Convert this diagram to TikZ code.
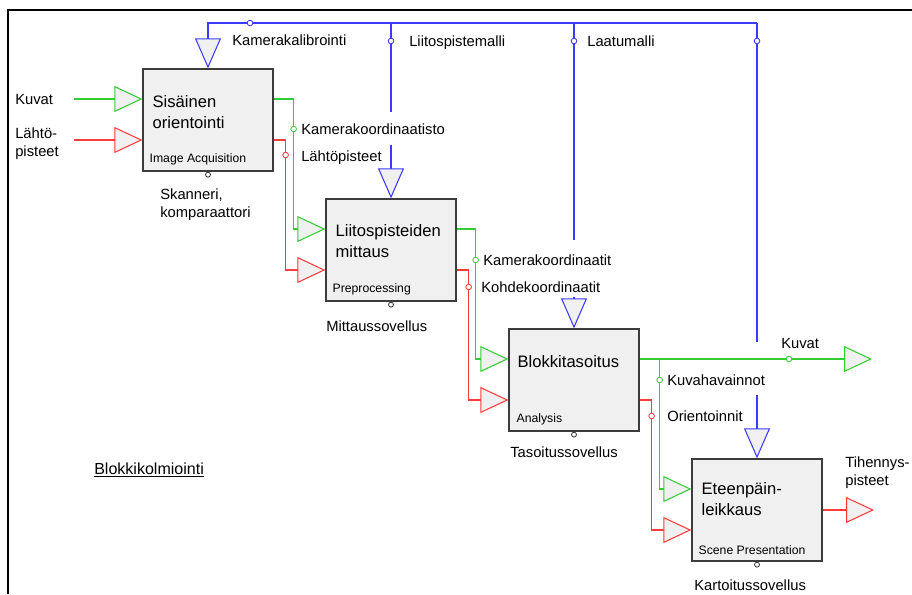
\documentclass[tikz,border=0pt]{standalone}
\usepackage{fontspec}
\setmainfont{Liberation Sans}
\usetikzlibrary{arrows.meta, calc}
\definecolor{grn}{HTML}{33CC33}
\definecolor{rd}{HTML}{FF3B3B}
\definecolor{blu}{HTML}{3B3BFF}
\definecolor{boxfill}{HTML}{F0F0F0}
\definecolor{boxline}{HTML}{3C3C3C}
\begin{document}
\begin{tikzpicture}[
  x=0.025cm, y=-0.025cm,
  blk/.style={rectangle, draw=boxline, fill=boxfill, line width=0.9pt, minimum width=3.25cm, minimum height=2.55cm, inner sep=0},
  ttl/.style={anchor=north west, inner sep=0, align=left, font=\fontsize{11.8}{14.9}\selectfont},
  sub/.style={anchor=west, inner sep=0, text height=6.2pt, text depth=0pt, font=\fontsize{8.7}{10}\selectfont},
  lbl/.style={anchor=west, inner sep=0, text height=7.5pt, text depth=0pt, font=\fontsize{10.5}{12.5}\selectfont},
  lbltwo/.style={anchor=north west, inner sep=0, align=left, font=\fontsize{10.5}{12.7}\selectfont},
  wire/.style={line width=0.75pt},
  inarr/.style={-{Triangle[length=0.7cm, width=0.65cm, fill=boxfill]}},
  ctlarr/.style={-{Triangle[length=0.75cm, width=0.65cm, fill=boxfill]}},
  tap/.style={circle, fill=white, inner sep=0, minimum size=4pt, line width=0.6pt}
]
  \useasboundingbox (0,0) rectangle (912,594);
  \draw[line width=0.8pt] (8,594) -- (8,10) -- (912,10);

  \node[blk] (s1) at (208,120) {};
  \node[blk] (s2) at (391,250) {};
  \node[blk] (s3) at (574,380) {};
  \node[blk] (s4) at (757,510) {};

  \node[ttl] (s1t) at ($(s1.north west)+(10,27)$) {Sisäinen\\orientointi};
  \node[ttl] (s2t) at ($(s2.north west)+(10,26)$) {Liitospisteiden\\mittaus};
  \node[ttl] (s3t) at ($(s3.north west)+(9,27)$) {Blokkitasoitus};
  \node[ttl] (s4t) at ($(s4.north west)+(10,24)$) {Eteenpäin-\\leikkaus};
  \node[sub] (s1s) at ($(s1.south west)+(7,-14)$) {Image Acquisition};
  \node[sub] (s2s) at ($(s2.south west)+(7,-14)$) {Preprocessing};
  \node[sub] (s3s) at ($(s3.south west)+(8,-14)$) {Analysis};
  \node[sub] (s4s) at ($(s4.south west)+(7,-12)$) {Scene Presentation};

  \node[tap, draw=boxline, minimum size=3.5pt] (m1) at ($(s1.south)+(0,3)$) {};
  \node[tap, draw=boxline, minimum size=3.5pt] (m2) at ($(s2.south)+(0,3)$) {};
  \node[tap, draw=boxline, minimum size=3.5pt] (m3) at ($(s3.south)+(0,3)$) {};
  \node[tap, draw=boxline, minimum size=3.5pt] (m4) at ($(s4.south)+(0,3)$) {};

  \coordinate (kuvin) at (74,99);
  \coordinate (lahin) at (74,140);
  \draw[wire, grn, inarr] (kuvin) -- ($(s1.west)+(0,-21)$);
  \draw[wire, rd, inarr] (lahin) -- ($(s1.west)+(0,20)$);

  \draw[wire, grn, inarr] ($(s1.east)+(0,-21)$) -- ++(20,0) |- ($(s2.west)+(0,-21)$);
  \draw[wire, rd, inarr] ($(s1.east)+(0,20)$) -- ++(12,0) |- ($(s2.west)+(0,20)$);
  \draw[wire, grn, inarr] ($(s2.east)+(0,-21)$) -- ++(19,0) |- ($(s3.west)+(0,-21)$);
  \draw[wire, rd, inarr] ($(s2.east)+(0,20)$) -- ++(12,0) |- ($(s3.west)+(0,20)$);

  \coordinate (kuvout) at (872,359);
  \coordinate (j3) at ($(s3.east)+(20,-21)$);
  \draw[wire, grn, inarr] ($(s3.east)+(0,-21)$) -- (kuvout);
  \draw[wire, grn, inarr] (j3) |- ($(s4.west)+(0,-21)$);
  \draw[wire, rd, inarr] ($(s3.east)+(0,20)$) -- ++(12,0) |- ($(s4.west)+(0,20)$);
  \coordinate (tihout) at (874,510);
  \draw[wire, rd, inarr] (s4.east) -- (tihout);

  \coordinate (bus) at (757,23);
  \draw[wire, blu, ctlarr] (bus) -| (s1.north);
  \coordinate (g2a) at (391,112);
  \coordinate (g2b) at (391,145);
  \coordinate (g3a) at (574,240);
  \coordinate (g3b) at (574,297);
  \coordinate (g4a) at (757,342);
  \coordinate (g4b) at (757,395);
  \draw[wire, blu] (s2.north |- bus) -- (g2a);
  \draw[wire, blu, ctlarr] (g2b) -- (s2.north);
  \draw[wire, blu] (s3.north |- bus) -- (g3a);
  \draw[wire, blu, ctlarr] (g3b) -- (s3.north);
  \draw[wire, blu] (bus) -- (g4a);
  \draw[wire, blu, ctlarr] (g4b) -- (s4.north);

  \node[tap, draw=blu] (c0) at (250,23) {};
  \node[tap, draw=blu] (c2) at (391,41) {};
  \node[tap, draw=blu] (c3) at (574,41) {};
  \node[tap, draw=blu] (c4) at (757,41) {};
  \node[tap, draw=grn] (d1) at ($(s1.east)+(20,9)$) {};
  \node[tap, draw=rd] (e1) at ($(s1.east)+(12,35)$) {};
  \node[tap, draw=grn] (d2) at ($(s2.east)+(19,10)$) {};
  \node[tap, draw=rd] (e2) at ($(s2.east)+(12,37)$) {};
  \node[tap, draw=grn] (d3) at ($(s3.east)+(20,0)$) {};
  \node[tap, draw=rd] (e3) at ($(s3.east)+(12,36)$) {};
  \node[tap, draw=grn] (d4) at (789,359) {};

  \node[lbl] (kuvat) at (15,99) {Kuvat};
  \node[lbltwo] (lahto) at (15,128) {Lähtö-\\pisteet};
  \node[lbl] (kalib) at (232,40) {Kamerakalibrointi};
  \node[lbl] (liitm) at (409,41) {Liitospistemalli};
  \node[lbl] (laatu) at (587,41) {Laatumalli};
  \node[lbl] (kkto) at (301,129) {Kamerakoordinaatisto};
  \node[lbl] (lahp) at (301,156) {Lähtöpisteet};
  \node[lbltwo] (skan) at (160,189) {Skanneri,\\komparaattori};
  \node[lbl] (mitt) at (326,326) {Mittaussovellus};
  \node[lbl] (kkat) at (483,260) {Kamerakoordinaatit};
  \node[lbl] (kohd) at (481,287) {Kohdekoordinaatit};
  \node[lbl] (kuvat2) at (781,343) {Kuvat};
  \node[lbl] (kuvah) at (667,380) {Kuvahavainnot};
  \node[lbl] (orie) at (667,416) {Orientoinnit};
  \node[lbl] (taso) at (510,452) {Tasoitussovellus};
  \node[lbltwo] (tihe) at (845,457) {Tihennys-\\pisteet};
  \node[lbl] (karto) at (694,585) {Kartoitussovellus};
  \node[anchor=base west, inner sep=0, font=\fontsize{11.4}{13}\selectfont] (blokki) at (94,474) {\underline{Blokkikolmiointi}};
\end{tikzpicture}
\end{document}
